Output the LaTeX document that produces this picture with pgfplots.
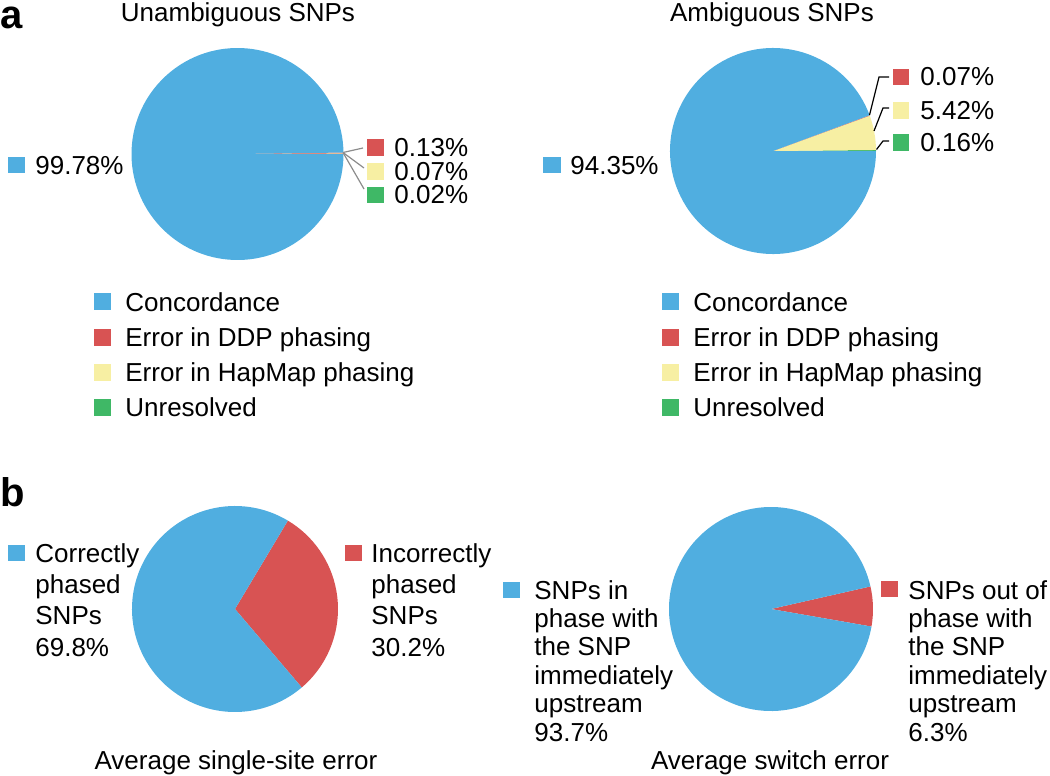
\documentclass[border=0pt]{standalone}
\usepackage{pgfplots}
\pgfplotsset{compat=1.18}
\usepackage{fontspec}
\setmainfont{Liberation Sans}
\definecolor{cBlue}{RGB}{80,174,224}
\definecolor{cRed}{RGB}{216,83,83}
\definecolor{cYellow}{RGB}{247,239,163}
\definecolor{cGreen}{RGB}{63,184,102}
\definecolor{cLead}{RGB}{140,140,140}

% ---- data (percent) ----
% Unambiguous SNPs
\def\uConc{99.78}\def\uDDP{0.13}\def\uHap{0.07}\def\uUnr{0.02}
% Ambiguous SNPs
\def\mConc{94.35}\def\mDDP{0.07}\def\mHap{5.42}\def\mUnr{0.16}
% Average single-site error (red slice starts at -49.6 deg)
\def\sCorr{69.8}\def\sInc{30.2}\def\sStart{-49.6}
% Average switch error (red slice starts at -9.9 deg)
\def\wIn{93.7}\def\wOut{6.3}\def\wStart{-9.9}

\pgfmathsetmacro\uA{\uUnr*3.6}
\pgfmathsetmacro\uB{(\uUnr+\uHap)*3.6}
\pgfmathsetmacro\uC{(\uUnr+\uHap+\uDDP)*3.6}
\pgfmathsetmacro\mA{\mUnr*3.6}
\pgfmathsetmacro\mB{(\mUnr+\mHap)*3.6}
\pgfmathsetmacro\mC{(\mUnr+\mHap+\mDDP)*3.6}
\pgfmathsetmacro\sA{\sStart+\sInc*3.6}
\pgfmathsetmacro\sB{\sStart+360}
\pgfmathsetmacro\wA{\wStart+\wOut*3.6}
\pgfmathsetmacro\wB{\wStart+360}

\newcommand\slice[4]{% colour, start angle, end angle, radius
  \addplot[fill=#1, draw=none, data cs=polar] coordinates {(0,0) (#2,1)}
    arc[start angle=#2, end angle=#3, radius=#4] -- cycle;}

\pgfplotsset{pie/.style={anchor=center, scale only axis, xmin=-1, xmax=1,
  ymin=-1, ymax=1, hide axis, clip=false}}

\begin{document}%
\begin{tikzpicture}[x=0.5pt, y=0.5pt,
  lab/.style={anchor=base west, inner sep=0, font=\fontsize{13}{15}\selectfont},
  ctxt/.style={anchor=base, inner sep=0, font=\fontsize{13}{15}\selectfont},
  pl/.style={anchor=base west, inner sep=0, font=\fontsize{20}{24}\selectfont\bfseries}]
\useasboundingbox (0,0) rectangle (1050,-776);
\clip (0,0) rectangle (1050,-776);

% ---------------- pies ----------------
\begin{pgfinterruptboundingbox}
\begin{axis}[pie, at={(118.75pt,-77pt)}, width=106pt, height=106pt]
  \slice{cGreen}{0}{\uA}{53pt}
  \slice{cYellow}{\uA}{\uB}{53pt}
  \slice{cRed}{\uB}{\uC}{53pt}
  \slice{cBlue}{\uC}{360}{53pt}
\end{axis}
\begin{axis}[pie, at={(386.5pt,-75.5pt)}, width=103pt, height=103pt]
  \slice{cGreen}{0}{\mA}{51.5pt}
  \slice{cYellow}{\mA}{\mB}{51.5pt}
  \slice{cRed}{\mB}{\mC}{51.5pt}
  \slice{cBlue}{\mC}{360}{51.5pt}
\end{axis}
\begin{axis}[pie, at={(117.5pt,-304.5pt)}, width=103pt, height=103pt]
  \slice{cRed}{\sStart}{\sA}{51.5pt}
  \slice{cBlue}{\sA}{\sB}{51.5pt}
\end{axis}
\begin{axis}[pie, at={(385.5pt,-304.5pt)}, width=102pt, height=102pt]
  \slice{cRed}{\wStart}{\wA}{51pt}
  \slice{cBlue}{\wA}{\wB}{51pt}
\end{axis}
\end{pgfinterruptboundingbox}

% ---------------- panel letters & titles ----------------
\node[pl] at (0,-28) {a};
\node[pl] at (0,-506) {b};
\node[ctxt] at (238,-21) {Unambiguous SNPs};
\node[ctxt] at (772,-21) {Ambiguous SNPs};
\node[ctxt] at (236,-769) {Average single-site error};
\node[ctxt] at (770,-769) {Average switch error};

% ---------------- pie 1 labels ----------------
\fill[cBlue] (8,-157) rectangle (25,-173);
\node[lab] at (35,-174) {99.78\%};
\draw[cLead, line width=0.6pt] (343,-152.5) -- (363,-148);
\draw[cLead, line width=0.6pt] (343,-152.5) -- (364,-168);
\draw[cLead, line width=0.6pt] (343,-152.5) -- (364,-189);
\fill[cRed] (367,-139) rectangle (384,-156);
\fill[cYellow] (367,-163) rectangle (384,-180);
\fill[cGreen] (367,-187) rectangle (384,-203);
\node[lab] at (394,-156) {0.13\%};
\node[lab] at (394,-180) {0.07\%};
\node[lab] at (394,-203) {0.02\%};

% ---------------- pie 2 labels ----------------
\fill[cBlue] (543,-157) rectangle (561,-173);
\node[lab] at (570,-174) {94.35\%};
\draw[black, line width=0.6pt] (869.5,-115) -- (879,-77) -- (889,-77);
\draw[black, line width=0.6pt] (874,-131) -- (883,-108) -- (889,-108);
\draw[black, line width=0.6pt] (876.5,-149.5) -- (883,-141) -- (889,-141);
\fill[cRed] (893,-69) rectangle (909,-85);
\fill[cYellow] (893,-102) rectangle (909,-119);
\fill[cGreen] (893,-134) rectangle (909,-151);
\node[lab] at (920,-85) {0.07\%};
\node[lab] at (920,-119) {5.42\%};
\node[lab] at (920,-151) {0.16\%};

% ---------------- legends ----------------
\foreach \dx in {0,568}{
  \fill[cBlue]   (94+\dx,-293) rectangle (111+\dx,-310);
  \fill[cRed]    (94+\dx,-329) rectangle (111+\dx,-346);
  \fill[cYellow] (94+\dx,-364) rectangle (111+\dx,-381);
  \fill[cGreen]  (94+\dx,-399) rectangle (111+\dx,-416);
  \node[lab] at (125+\dx,-311) {Concordance};
  \node[lab] at (125+\dx,-346) {Error in DDP phasing};
  \node[lab] at (125+\dx,-381) {Error in HapMap phasing};
  \node[lab] at (125+\dx,-416) {Unresolved};
}

% ---------------- panel b labels ----------------
\fill[cBlue] (8,-545) rectangle (25,-561);
\node[lab] at (35,-562) {Correctly};
\node[lab] at (35,-593.3) {phased};
\node[lab] at (35,-624.6) {SNPs};
\node[lab] at (35,-656) {69.8\%};
\fill[cRed] (345,-545) rectangle (362,-561);
\node[lab] at (371,-562) {Incorrectly};
\node[lab] at (371,-593.3) {phased};
\node[lab] at (371,-624.6) {SNPs};
\node[lab] at (371,-656) {30.2\%};

\fill[cBlue] (503,-582) rectangle (520,-598);
\node[lab] at (534,-599) {SNPs in};
\node[lab] at (534,-627.4) {phase with};
\node[lab] at (534,-655.8) {the SNP};
\node[lab] at (534,-684.2) {immediately};
\node[lab] at (534,-712.6) {upstream};
\node[lab] at (534,-741) {93.7\%};
\fill[cRed] (881,-581) rectangle (898,-597);
\node[lab] at (908,-599) {SNPs out of};
\node[lab] at (908,-627.4) {phase with};
\node[lab] at (908,-655.8) {the SNP};
\node[lab] at (908,-684.2) {immediately};
\node[lab] at (908,-712.6) {upstream};
\node[lab] at (908,-741) {6.3\%};
\end{tikzpicture}%
\end{document}
